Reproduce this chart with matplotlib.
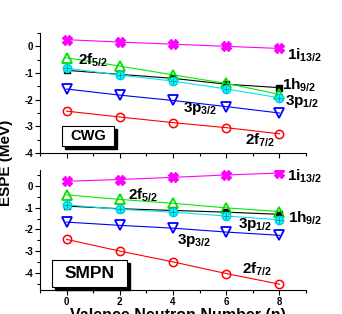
import matplotlib
matplotlib.use("Agg")
import matplotlib.pyplot as plt
from matplotlib.patches import Rectangle
from matplotlib.ticker import MultipleLocator

plt.rcParams['font.family'] = ['Liberation Sans', 'DejaVu Sans']
plt.rcParams['font.weight'] = 'bold'
plt.rcParams['mathtext.fontset'] = 'custom'
plt.rcParams['mathtext.rm'] = 'Liberation Sans:bold'
plt.rcParams['mathtext.bf'] = 'Liberation Sans:bold'
plt.rcParams['mathtext.it'] = 'Liberation Sans:bold'

n = [0, 2, 4, 6, 8]

# CWG panel
cwg_1i13 = [0.25, 0.16, 0.08, 0.0, -0.08]
cwg_2f5 = [-0.43, -0.74, -1.07, -1.39, -1.8]
cwg_1h9 = [-0.9, -1.05, -1.2, -1.42, -1.55]
cwg_3p1 = [-0.82, -1.08, -1.3, -1.6, -1.93]
cwg_3p3 = [-1.6, -1.83, -2.03, -2.26, -2.5]
cwg_2f7 = [-2.43, -2.65, -2.86, -3.05, -3.28]

# SMPN panel
smpn_1i13 = [0.23, 0.31, 0.41, 0.52, 0.61]
smpn_2f5 = [-0.4, -0.61, -0.79, -1.0, -1.17]
smpn_1h9 = [-0.92, -1.04, -1.12, -1.2, -1.3]
smpn_3p1 = [-0.86, -1.07, -1.2, -1.38, -1.55]
smpn_3p3 = [-1.66, -1.81, -1.94, -2.12, -2.27]
smpn_2f7 = [-2.46, -3.0, -3.5, -4.04, -4.53]

fig = plt.figure(figsize=(3.42, 3.14), dpi=100)
ax1 = fig.add_axes([0.117, 0.5127, 0.778, 0.3822])
ax2 = fig.add_axes([0.117, 0.0764, 0.778, 0.3822])


def draw(ax, d):
    i13, f5, h9, p1, p3, f7 = d
    ax.plot(n, i13, color='#ff00ff', lw=0.8, marker='X', ms=7, mfc='#ff00ff', mec='#ff00ff')
    ax.plot(n, h9, color='black', lw=0.8, marker='s', ms=5, mfc='black', mec='black')
    ax.plot(n, f5, color='#00ee00', lw=0.8, marker='^', ms=7, mfc='none', mec='#00dd00', mew=1.3)
    ax.plot(n, p1, color='#00e5ee', lw=0.8, marker='o', ms=6, mfc='#00ffff', mec='#00ccdd')
    ax.plot(n, p1, color='none', lw=0, marker='+', ms=5, mec='#008899', mew=0.6)
    ax.plot(n, p3, color='#0000ff', lw=0.8, marker='v', ms=7, mfc='none', mec='#0000ff', mew=1.3)
    ax.plot(n, f7, color='#ff0000', lw=0.8, marker='o', ms=6, mfc='none', mec='#ff0000', mew=1.1)
    ax.set_xlim(-1, 9)
    ax.spines['top'].set_visible(False)
    ax.spines['right'].set_visible(False)
    ax.xaxis.set_major_locator(MultipleLocator(2))
    ax.xaxis.set_minor_locator(MultipleLocator(1))
    ax.yaxis.set_major_locator(MultipleLocator(1))
    ax.yaxis.set_minor_locator(MultipleLocator(0.5))
    ax.tick_params(which='both', direction='out', labelsize=7, width=0.8, pad=1.5)
    ax.tick_params(which='major', length=3.5)
    ax.tick_params(which='minor', length=2.2)


draw(ax1, [cwg_1i13, cwg_2f5, cwg_1h9, cwg_3p1, cwg_3p3, cwg_2f7])
draw(ax2, [smpn_1i13, smpn_2f5, smpn_1h9, smpn_3p1, smpn_3p3, smpn_2f7])
ax1.set_ylim(-4, 0.5)
ax2.set_ylim(-4.8, 0.75)
ax1.set_xticks([0, 2, 4, 6, 8])
ax1.set_xticklabels([])
ax2.set_xticks([0, 2, 4, 6, 8])
ax2.set_xticklabels(['0', '2', '4', '6', '8'], fontweight='bold')
ax1.set_yticks([-4, -3, -2, -1, 0])
ax1.set_yticklabels(['-4', '-3', '-2', '-1', '0'], fontweight='bold')
ax2.set_yticks([-4, -3, -2, -1, 0])
ax2.set_yticklabels(['-4', '-3', '-2', '-1', '0'], fontweight='bold')


def lab(ax, x, y, main, sub):
    ax.text(x, y, r'$\mathbf{' + main + r'}_{\mathbf{' + sub + r'}}$', fontsize=11,
            ha='left', va='baseline')


lab(ax1, 0.41, -0.67, '2f', '5/2')
lab(ax1, 8.29, -0.49, '1i', '13/2')
lab(ax1, 8.1, -1.61, '1h', '9/2')
lab(ax1, 8.21, -2.21, '3p', '1/2')
lab(ax1, 4.39, -2.47, '3p', '3/2')
lab(ax1, 6.71, -3.67, '2f', '7/2')

lab(ax2, 2.32, -0.6, '2f', '5/2')
lab(ax2, 8.29, 0.28, '1i', '13/2')
lab(ax2, 8.32, -1.66, '1h', '9/2')
lab(ax2, 6.45, -1.94, '3p', '1/2')
lab(ax2, 4.16, -2.67, '3p', '3/2')
lab(ax2, 6.6, -4.06, '2f', '7/2')


def boxed(x0, y0, w, h, text, fs):
    W, H = 342.0, 314.0
    fig.patches.append(Rectangle(((x0 + 3) / W, 1 - (y0 + h + 3) / H), w / W, h / H,
                                 transform=fig.transFigure, facecolor='black',
                                 edgecolor='black', zorder=5))
    fig.patches.append(Rectangle((x0 / W, 1 - (y0 + h) / H), w / W, h / H,
                                 transform=fig.transFigure, facecolor='white',
                                 edgecolor='black', lw=0.8, zorder=6))
    fig.text((x0 + w / 2) / W, 1 - (y0 + h / 2) / H, text, ha='center', va='center',
             fontsize=fs, fontweight='bold', zorder=7)


boxed(62, 126, 52, 20, 'CWG', 10.5)
boxed(52, 260, 75, 27, 'SMPN', 12.5)

fig.text(0.018, 0.48, 'ESPE (MeV)', rotation=90, ha='center', va='center',
         fontsize=11, fontweight='bold')
fig.text(0.52, 0.019, 'Valence Neutron Number (n)', ha='center', va='top',
         fontsize=11.5, fontweight='bold')

fig.savefig('out.png', dpi=100)
